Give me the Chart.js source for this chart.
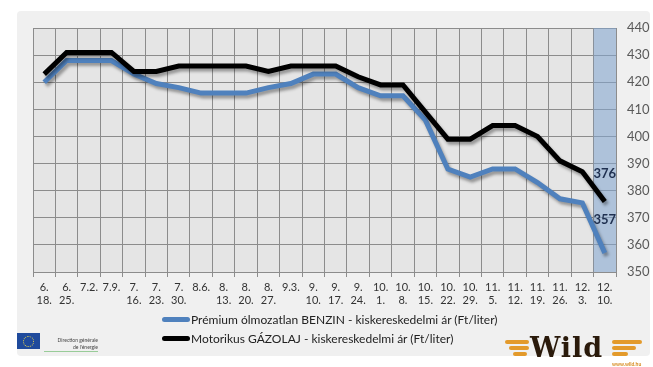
<!DOCTYPE html>
<html>
<head>
<meta charset="utf-8">
<script src="https://cdn.jsdelivr.net/npm/chart.js@4"></script>
<style>
  body { margin: 0; background: #fff; font-family: Lato, sans-serif; }
  #wrap { position: relative; width: 653px; height: 367px; overflow: hidden; }
  #panel { position: absolute; left: 17px; top: 11px; width: 633px; height: 345px; background: #f0f0f0; border-radius: 4px; }
  canvas { position: absolute; left: 0; top: 0; }
  .leg { position: absolute; left: 162px; font-size: 12px; color: #222; white-space: nowrap; }
  .leg span { display: inline-block; width: 28px; height: 5px; border-radius: 3px; vertical-align: middle; margin-right: 1px; position: relative; top: -1px; }
  #eu { position: absolute; left: 17px; top: 333px; width: 23px; height: 16px; background: #1f4a9c; }
  #eu i { position: absolute; left: 6px; top: 3px; width: 9px; height: 9px; border: 1px dotted #e8d44d; border-radius: 50%; }
  #eutxt { position: absolute; left: 44px; top: 337px; font-size: 5px; color: #444; line-height: 7px; text-align: right; width: 54px; border-bottom: 1px solid #9c9; }
  #wild { position: absolute; left: 530px; top: 333px; font-family: "DejaVu Serif", serif; font-weight: bold; font-size: 27px; color: #2a1a0b; line-height: 30px; letter-spacing: 1px; }
  .wing { position: absolute; height: 4px; background: #e39a2b; border-radius: 2px; }
  #site { position: absolute; left: 612px; top: 361px; font-size: 5px; color: #d68a1e; font-weight: bold; }
</style>
</head>
<body>
<div id="wrap">
  <div id="panel"></div>
  <canvas id="chart" width="653" height="367"></canvas>
  <div class="leg" style="top:312px"><span style="background:#4f81bd"></span>Prémium ólmozatlan BENZIN - kiskereskedelmi ár (Ft/liter)</div>
  <div class="leg" style="top:331px"><span style="background:#000"></span>Motorikus GÁZOLAJ - kiskereskedelmi ár (Ft/liter)</div>
  <div id="eu"><i></i></div>
  <div id="eutxt">Direction générale<br>de l'énergie</div>
  <div class="wing" style="left:505px;top:340px;width:24px"></div>
  <div class="wing" style="left:509px;top:346px;width:20px"></div>
  <div class="wing" style="left:513px;top:352px;width:14px"></div>
  <div id="wild">Wild</div>
  <div class="wing" style="left:612px;top:340px;width:30px"></div>
  <div class="wing" style="left:612px;top:346px;width:24px"></div>
  <div class="wing" style="left:612px;top:352px;width:16px"></div>
  <div id="site">www.wild.hu</div>
</div>
<script>
const labels = [
  ['6.', '18.'], ['6.', '25.'], '7.2.', '7.9.', ['7.', '16.'], ['7.', '23.'], ['7.', '30.'],
  '8.6.', ['8.', '13.'], ['8.', '20.'], ['8.', '27.'], '9.3.', ['9.', '10.'], ['9.', '17.'],
  ['9.', '24.'], ['10.', '1.'], ['10.', '8.'], ['10.', '15.'], ['10.', '22.'], ['10.', '29.'],
  ['11.', '5.'], ['11.', '12.'], ['11.', '19.'], ['11.', '26.'], ['12.', '3.'], ['12.', '10.']
];
const benzin = [420, 428, 428, 428, 423, 419.5, 418, 416, 416, 416, 418, 419.5, 423, 423,
  418, 415, 415, 406, 388, 385, 388, 388, 383, 377, 375.5, 357];
const gazolaj = [423, 431, 431, 431, 424, 424, 426, 426, 426, 426, 424, 426, 426, 426,
  422, 419, 419, 409, 399, 399, 404, 404, 400, 391, 387, 376];
const yMin = 350, yMax = 440, yStep = 10;

// plot background, last-week band, shadows and end labels
const deco = {
  id: 'deco',
  beforeDraw(chart) {
    const { ctx, chartArea: a } = chart;
    ctx.save();
    ctx.fillStyle = '#e5e5e5';
    ctx.fillRect(a.left, a.top, a.right - a.left, a.bottom - a.top);
    ctx.restore();
  },
  beforeDatasetsDraw(chart) {
    const { ctx, chartArea: a, scales: { x } } = chart;
    const last = labels.length - 1;
    const half = (x.getPixelForValue(1) - x.getPixelForValue(0)) / 2;
    ctx.save();
    ctx.fillStyle = 'rgba(130,165,210,0.55)';
    ctx.fillRect(x.getPixelForValue(last) - half, a.top, a.right - (x.getPixelForValue(last) - half), a.bottom - a.top);
    ctx.restore();
  },
  beforeDatasetDraw(chart) {
    const ctx = chart.ctx;
    ctx.save();
    ctx.shadowColor = 'rgba(0,0,0,0.35)';
    ctx.shadowBlur = 3;
    ctx.shadowOffsetX = 2;
    ctx.shadowOffsetY = 3;
  },
  afterDatasetDraw(chart) {
    chart.ctx.restore();
  },
  afterDatasetsDraw(chart) {
    const { ctx, scales: { x, y } } = chart;
    const last = labels.length - 1;
    ctx.save();
    ctx.font = 'bold 13px Lato, sans-serif';
    ctx.fillStyle = '#1f3050';
    ctx.textAlign = 'center';
    ctx.textBaseline = 'middle';
    [[gazolaj, 28], [benzin, 33]].forEach(([d, off]) => {
      ctx.fillText(String(d[last]), x.getPixelForValue(last), y.getPixelForValue(d[last]) - off);
    });
    ctx.restore();
  }
};

new Chart(document.getElementById('chart'), {
  type: 'line',
  data: {
    labels: labels,
    datasets: [
      { label: 'Prémium ólmozatlan BENZIN - kiskereskedelmi ár (Ft/liter)', data: benzin,
        borderColor: '#4f81bd', borderWidth: 5, pointRadius: 0, tension: 0, order: 1 },
      { label: 'Motorikus GÁZOLAJ - kiskereskedelmi ár (Ft/liter)', data: gazolaj,
        borderColor: '#000000', borderWidth: 5, pointRadius: 0, tension: 0, order: 0 }
    ]
  },
  options: {
    responsive: false,
    animation: false,
    layout: { padding: { left: 33, top: 28, right: 0, bottom: 50 } },
    plugins: { legend: { display: false }, tooltip: { enabled: false } },
    scales: {
      x: {
        offset: true,
        grid: { color: '#8c8c8c', tickLength: 5, offset: true },
        border: { color: '#8c8c8c' },
        ticks: { color: '#333', font: { family: 'Lato', size: 11 }, padding: 4, maxRotation: 0, autoSkip: false },
        afterFit(s) { s.height = 45; }
      },
      y: {
        position: 'right',
        min: yMin, max: yMax,
        grid: { color: '#8c8c8c', drawTicks: false },
        border: { color: '#8c8c8c' },
        ticks: { stepSize: yStep, color: '#595959', font: { family: 'Lato', size: 13 }, padding: 11 },
        afterFit(s) { s.width = 37; }
      }
    }
  },
  plugins: [deco]
});
</script>
</body>
</html>
